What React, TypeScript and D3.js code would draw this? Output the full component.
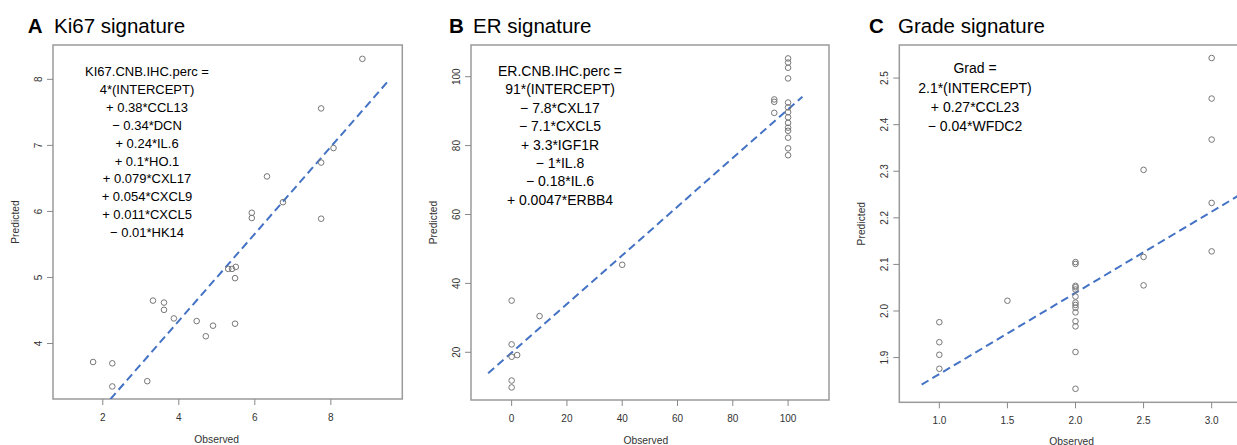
import React from 'react';
import * as d3 from 'd3';

// ---------- DATA ----------
const ki67Observed = [8.83, 7.745, 8.07, 7.745, 6.32, 6.74, 5.92, 5.92, 7.745, 5.3, 5.4, 5.5, 5.48, 3.32, 3.61, 3.61, 3.87, 4.47, 4.9, 4.71, 5.48, 1.745, 2.25, 2.25, 3.17];
const ki67Predicted = [8.31, 7.56, 6.96, 6.74, 6.53, 6.14, 5.98, 5.9, 5.89, 5.13, 5.13, 5.16, 4.99, 4.65, 4.62, 4.51, 4.38, 4.34, 4.27, 4.11, 4.3, 3.72, 3.7, 3.35, 3.43];
const ki67FitX = [2.2, 9.5];
const ki67FitY = [3.157, 7.968];
const ki67XTicks = [2, 4, 6, 8];
const ki67YTicks = [4, 5, 6, 7, 8];
const ki67Equation = [
  'KI67.CNB.IHC.perc =',
  '4*(INTERCEPT)',
  '+ 0.38*CCL13',
  '\u2212 0.34*DCN',
  '+ 0.24*IL.6',
  '+ 0.1*HO.1',
  '+ 0.079*CXL17',
  '+ 0.054*CXCL9',
  '+ 0.011*CXCL5',
  '\u2212 0.01*HK14',
];

const erObserved = [0, 0, 0, 0, 0, 2, 10.1, 40, 95, 95, 95, 100, 100, 100, 100, 100, 100, 100, 100, 100, 100, 100, 100, 100, 100];
const erPredicted = [35.0, 22.3, 18.7, 11.8, 9.8, 19.2, 30.5, 45.4, 93.4, 92.7, 89.5, 105.3, 104.1, 102.6, 99.5, 92.5, 91.1, 89.7, 88.2, 86.6, 85.2, 84.3, 82.3, 79.2, 77.2];
const erFitX = [-8.5, 105.2];
const erFitY = [13.9, 94.2];
const erXTicks = [0, 20, 40, 60, 80, 100];
const erYTicks = [20, 40, 60, 80, 100];
const erEquation = [
  'ER.CNB.IHC.perc =',
  '91*(INTERCEPT)',
  '\u2212 7.8*CXL17',
  '\u2212 7.1*CXCL5',
  '+ 3.3*IGF1R',
  '\u2212 1*IL.8',
  '\u2212 0.18*IL.6',
  '+ 0.0047*ERBB4',
];

const gradeObserved = [3, 3, 3, 2.5, 3, 3, 2.5, 2.5, 1.5, 1, 1, 1, 1, 2, 2, 2, 2, 2, 2, 2, 2, 2, 2, 2, 2, 2, 2];
const gradePredicted = [2.543, 2.456, 2.368, 2.303, 2.232, 2.128, 2.116, 2.055, 2.022, 1.976, 1.933, 1.906, 1.876, 2.105, 2.101, 2.054, 2.051, 2.046, 2.031, 2.018, 2.013, 2.007, 1.997, 1.978, 1.967, 1.912, 1.833];
const gradeFitX = [0.87, 3.4];
const gradeFitY = [1.842, 2.283];
const gradeXTicks = [1.0, 1.5, 2.0, 2.5, 3.0];
const gradeYTicks = [1.9, 2.0, 2.1, 2.2, 2.3, 2.4, 2.5];
const gradeEquation = ['Grad =', '2.1*(INTERCEPT)', '+ 0.27*CCL23', '\u2212 0.04*WFDC2'];

// ---------- LAYOUT ----------
const FONT = "'Liberation Sans', Arial, Helvetica, sans-serif";

type PanelProps = {
  id: string;
  letter: string;
  title: string;
  letterX: number;
  titleX: number;
  box: { left: number; top: number; right: number; bottom: number };
  xDomain: [number, number];
  yDomain: [number, number];
  xs: number[];
  ys: number[];
  fitX: number[];
  fitY: number[];
  xTicks: number[];
  yTicks: number[];
  xFmt: (v: number) => string;
  yFmt: (v: number) => string;
  equation: string[];
  eqX: number;
  eqY: number;
  eqStep: number;
  eqSize: number;
  obsX: number;
  obsY: number;
};

function Panel(p: PanelProps) {
  const { left, top, right, bottom } = p.box;
  const x = d3.scaleLinear().domain(p.xDomain).range([left, right]);
  const y = d3.scaleLinear().domain(p.yDomain).range([bottom, top]);
  const line = d3
    .line<number>()
    .x((_, i) => x(p.fitX[i]))
    .y((_, i) => y(p.fitY[i]));
  const clipId = `clip-${p.id}`;
  return (
    <g>
      <defs>
        <clipPath id={clipId}>
          <rect x={left} y={top} width={right - left} height={bottom - top} />
        </clipPath>
      </defs>
      <text x={p.letterX} y={33.3} fontFamily={FONT} fontSize={20.5} fontWeight="bold" fill="#000">
        {p.letter}
      </text>
      <text x={p.titleX} y={33.3} fontFamily={FONT} fontSize={20.5} fill="#000">
        {p.title}
      </text>
      <rect x={left} y={top} width={right - left} height={bottom - top} fill="none" stroke="#9a9a9a" strokeWidth={1.5} />
      {p.xTicks.map((t) => (
        <g key={`xt${t}`}>
          <line x1={x(t)} x2={x(t)} y1={bottom} y2={bottom + 6} stroke="#888" strokeWidth={1} />
          <text x={x(t)} y={bottom + 22} textAnchor="middle" fontFamily={FONT} fontSize={10} fill="#333">
            {p.xFmt(t)}
          </text>
        </g>
      ))}
      {p.yTicks.map((t) => (
        <g key={`yt${t}`}>
          <line x1={left - 6} x2={left} y1={y(t)} y2={y(t)} stroke="#888" strokeWidth={1} />
          <text
            transform={`translate(${left - 11},${y(t)}) rotate(-90)`}
            textAnchor="middle"
            fontFamily={FONT}
            fontSize={10}
            fill="#333"
          >
            {p.yFmt(t)}
          </text>
        </g>
      ))}
      <text x={p.obsX} y={p.obsY} textAnchor="middle" fontFamily={FONT} fontSize={10.3} fill="#333">
        Observed
      </text>
      <text
        transform={`translate(${left - 34},${(top + bottom) / 2}) rotate(-90)`}
        textAnchor="middle"
        fontFamily={FONT}
        fontSize={10.3}
        fill="#333"
      >
        Predicted
      </text>
      <g clipPath={`url(#${clipId})`}>
        <path d={line(p.fitX) || ''} fill="none" stroke="#4472c4" strokeWidth={2} strokeDasharray="8,4.5" />
      </g>
      {p.xs.map((v, i) => (
        <circle key={i} cx={x(v)} cy={y(p.ys[i])} r={2.8} fill="none" stroke="#777" strokeWidth={1} />
      ))}
      {p.equation.map((s, i) => (
        <text
          key={`eq${i}`}
          x={p.eqX}
          y={p.eqY + i * p.eqStep}
          textAnchor="middle"
          fontFamily={FONT}
          fontSize={p.eqSize}
          fill="#000"
        >
          {s}
        </text>
      ))}
    </g>
  );
}

export default function App() {
  const fmtInt = (v: number) => String(v);
  const fmt1 = (v: number) => v.toFixed(1);
  return (
    <svg
      width={1237}
      height={445}
      viewBox="0 0 1237 445"
      style={{ position: 'absolute', left: 0, top: 0, background: '#fff' }}
    >
      <rect x={0} y={0} width={1237} height={445} fill="#fff" />
      <Panel
        id="a"
        letter="A"
        title="Ki67 signature"
        letterX={27.7}
        titleX={54}
        box={{ left: 53, top: 45, right: 402.3, bottom: 399 }}
        xDomain={[0.69, 9.88]}
        yDomain={[3.16, 8.52]}
        xs={ki67Observed}
        ys={ki67Predicted}
        fitX={ki67FitX}
        fitY={ki67FitY}
        xTicks={ki67XTicks}
        yTicks={ki67YTicks}
        xFmt={fmtInt}
        yFmt={fmtInt}
        equation={ki67Equation}
        eqX={147}
        eqY={76}
        eqStep={17.9}
        eqSize={13}
        obsX={216.7}
        obsY={443}
      />
      <Panel
        id="b"
        letter="B"
        title="ER signature"
        letterX={449}
        titleX={473}
        box={{ left: 471, top: 45, right: 829, bottom: 400 }}
        xDomain={[-14.7, 114.8]}
        yDomain={[6.15, 109.2]}
        xs={erObserved}
        ys={erPredicted}
        fitX={erFitX}
        fitY={erFitY}
        xTicks={erXTicks}
        yTicks={erYTicks}
        xFmt={fmtInt}
        yFmt={fmtInt}
        equation={erEquation}
        eqX={560}
        eqY={76}
        eqStep={18.4}
        eqSize={14}
        obsX={645.8}
        obsY={443.5}
      />
      <Panel
        id="c"
        letter="C"
        title="Grade signature"
        letterX={869}
        titleX={898}
        box={{ left: 899.3, top: 45, right: 1257, bottom: 402.3 }}
        xDomain={[0.706, 3.333]}
        yDomain={[1.804, 2.571]}
        xs={gradeObserved}
        ys={gradePredicted}
        fitX={gradeFitX}
        fitY={gradeFitY}
        xTicks={gradeXTicks}
        yTicks={gradeYTicks}
        xFmt={fmt1}
        yFmt={fmt1}
        equation={gradeEquation}
        eqX={975}
        eqY={73.3}
        eqStep={19.2}
        eqSize={14}
        obsX={1071.7}
        obsY={444.5}
      />
    </svg>
  );
}
